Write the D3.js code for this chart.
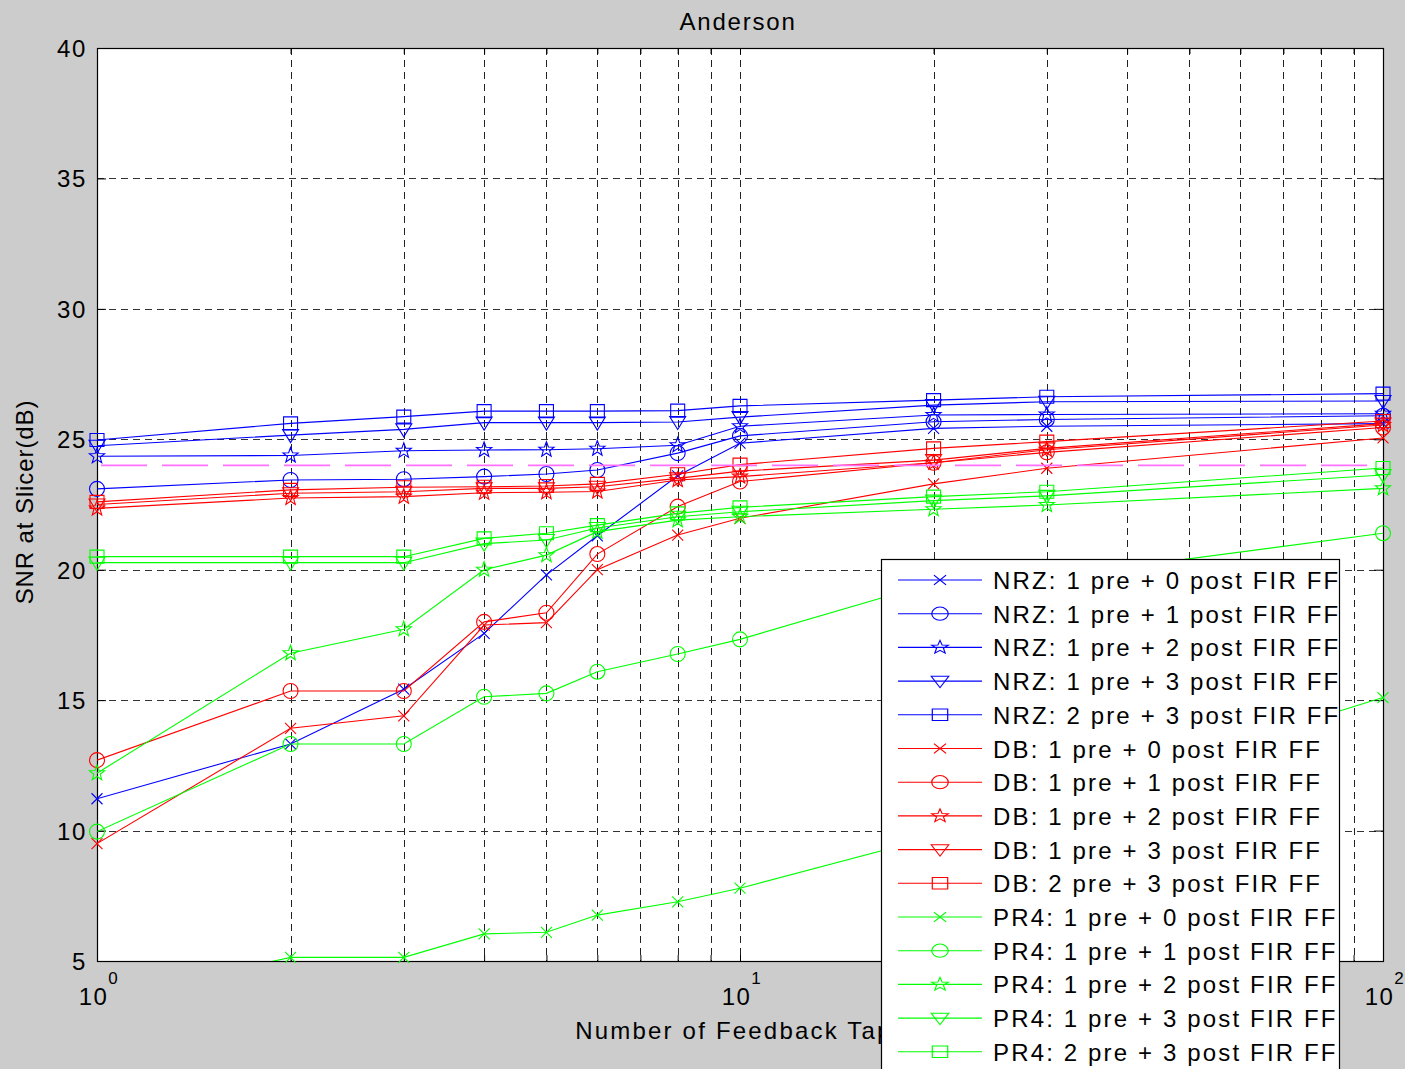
<!DOCTYPE html>
<html>
<head>
<meta charset="utf-8">
<script src="https://cdn.jsdelivr.net/npm/d3@7"></script>
<style>
  body { margin: 0; background: #cccccc; }
  text { font-family: "Liberation Sans", Arial, sans-serif; fill: #000; }
</style>
</head>
<body>
<div id="chart"></div>
<script>
// Data (SNR in dB vs number of feedback taps)
var taps = [1, 2, 3, 4, 5, 6, 8, 10, 20, 30, 100];

var nrz10 = [11.22, 13.32, 15.42, 17.56, 19.8, 21.3, 23.6, 24.85, 25.42, 25.5, 25.6];
var nrz11 = [23.1, 23.44, 23.47, 23.57, 23.67, 23.82, 24.47, 25.13, 25.67, 25.76, 25.9];
var nrz12 = [24.35, 24.38, 24.56, 24.59, 24.6, 24.64, 24.77, 25.5, 25.93, 25.95, 25.98];
var nrz13 = [24.75, 25.16, 25.38, 25.64, 25.64, 25.64, 25.66, 25.85, 26.31, 26.44, 26.47];
var nrz23 = [24.97, 25.61, 25.87, 26.08, 26.08, 26.08, 26.1, 26.28, 26.5, 26.63, 26.75];

var db10 = [9.5, 13.92, 14.4, 17.88, 17.97, 20.0, 21.33, 21.97, 23.29, 23.89, 25.05];
var db11 = [12.7, 15.35, 15.35, 18.0, 18.35, 20.6, 22.42, 23.38, 24.1, 24.5, 25.45];
var db12 = [22.35, 22.75, 22.8, 22.95, 22.97, 23.0, 23.44, 23.57, 24.1, 24.6, 25.55];
var db13 = [22.5, 22.93, 22.99, 23.12, 23.12, 23.18, 23.5, 23.78, 24.2, 24.65, 25.6];
var db23 = [22.6, 23.06, 23.16, 23.18, 23.21, 23.29, 23.66, 24.03, 24.65, 24.91, 25.7];

var pr410 = [3.5, 5.14, 5.14, 6.04, 6.1, 6.76, 7.27, 7.79, 9.75, 11.1, 15.1];
var pr411 = [9.96, 13.32, 13.32, 15.13, 15.26, 16.09, 16.77, 17.33, 19.5, 19.7, 21.4];
var pr412 = [12.2, 16.8, 17.72, 20.0, 20.56, 21.46, 21.9, 22.03, 22.32, 22.48, 23.12];
var pr413 = [20.27, 20.27, 20.27, 21.0, 21.14, 21.6, 22.03, 22.22, 22.65, 22.83, 23.63];
var pr423 = [20.5, 20.5, 20.5, 21.2, 21.4, 21.71, 22.16, 22.39, 22.8, 22.99, 23.9];

var targetSnr = 24;

var yTicks = [5, 10, 15, 20, 25, 30, 35, 40];
var xTicks = [1, 10, 100];
var xTickExp = ['0', '1', '2'];

var seriesNames = [
  'NRZ: 1 pre + 0 post FIR FF', 'NRZ: 1 pre + 1 post FIR FF', 'NRZ: 1 pre + 2 post FIR FF',
  'NRZ: 1 pre + 3 post FIR FF', 'NRZ: 2 pre + 3 post FIR FF',
  'DB: 1 pre + 0 post FIR FF', 'DB: 1 pre + 1 post FIR FF', 'DB: 1 pre + 2 post FIR FF',
  'DB: 1 pre + 3 post FIR FF', 'DB: 2 pre + 3 post FIR FF',
  'PR4: 1 pre + 0 post FIR FF', 'PR4: 1 pre + 1 post FIR FF', 'PR4: 1 pre + 2 post FIR FF',
  'PR4: 1 pre + 3 post FIR FF', 'PR4: 2 pre + 3 post FIR FF'
];
var seriesValues = [nrz10, nrz11, nrz12, nrz13, nrz23, db10, db11, db12, db13, db23,
                    pr410, pr411, pr412, pr413, pr423];
var seriesColors = ['#0000ff', '#0000ff', '#0000ff', '#0000ff', '#0000ff',
                    '#ff0000', '#ff0000', '#ff0000', '#ff0000', '#ff0000',
                    '#00ff00', '#00ff00', '#00ff00', '#00ff00', '#00ff00'];
var seriesMarkers = ['x', 'o', 'p', 'v', 's', 'x', 'o', 'p', 'v', 's', 'x', 'o', 'p', 'v', 's'];

var svgWidth = 1405;
var svgHeight = 1069;

var plot = { left: 97, right: 1383, top: 48, bottom: 961 };

var svg = d3.select('#chart')
  .append('svg')
  .attr('width', svgWidth)
  .attr('height', svgHeight);

svg.append('rect')
  .attr('width', svgWidth)
  .attr('height', svgHeight)
  .attr('fill', '#cccccc');

// Step 1: scales
// ==============================
var xScale = d3.scaleLog().domain([1, 100]).range([plot.left, plot.right]);
var yScale = d3.scaleLinear().domain([5, 40]).range([plot.bottom, plot.top]);

svg.append('defs').append('clipPath')
  .attr('id', 'plotclip')
  .append('rect')
  .attr('x', plot.left)
  .attr('y', plot.top)
  .attr('width', plot.right - plot.left)
  .attr('height', plot.bottom - plot.top);

svg.append('rect')
  .attr('x', plot.left)
  .attr('y', plot.top)
  .attr('width', plot.right - plot.left)
  .attr('height', plot.bottom - plot.top)
  .attr('fill', '#ffffff');

// Step 2: grid lines (dashed, MATLAB style)
// ==============================
var minorX = [];
[1, 10].forEach(function(dec) {
  for (var k = 1; k <= 9; k++) minorX.push(dec * k);
});
minorX.push(100);

svg.append('g')
  .selectAll('line')
  .data(minorX.filter(function(d) { return d > 1 && d < 100; }))
  .enter()
  .append('line')
  .attr('x1', function(d) { return Math.round(xScale(d)) + 0.5; })
  .attr('x2', function(d) { return Math.round(xScale(d)) + 0.5; })
  .attr('y1', plot.top)
  .attr('y2', plot.bottom)
  .attr('stroke', '#222')
  .attr('stroke-dasharray', '7,5');

svg.append('g')
  .selectAll('line')
  .data(yTicks.filter(function(d) { return d > 5 && d < 40; }))
  .enter()
  .append('line')
  .attr('x1', plot.left)
  .attr('x2', plot.right)
  .attr('y1', function(d) { return Math.round(yScale(d)) + 0.5; })
  .attr('y2', function(d) { return Math.round(yScale(d)) + 0.5; })
  .attr('stroke', '#333')
  .attr('stroke-dasharray', '7,5');

// Step 3: axes, ticks inward on all four sides
// ==============================
var axisG = svg.append('g');

axisG.append('g')
  .attr('transform', 'translate(0,' + plot.bottom + ')')
  .call(d3.axisBottom(xScale).tickValues(minorX).tickSize(-6).tickFormat(''));
axisG.append('g')
  .attr('transform', 'translate(0,' + plot.top + ')')
  .call(d3.axisTop(xScale).tickValues(minorX).tickSize(-6).tickFormat(''));
axisG.append('g')
  .attr('transform', 'translate(' + plot.left + ',0)')
  .call(d3.axisLeft(yScale).tickValues(yTicks).tickSize(-9).tickFormat(''));
axisG.append('g')
  .attr('transform', 'translate(' + plot.right + ',0)')
  .call(d3.axisRight(yScale).tickValues(yTicks).tickSize(-9).tickFormat(''));
axisG.selectAll('.domain').remove();
axisG.selectAll('line').attr('stroke', '#000');

svg.append('rect')
  .attr('x', plot.left + 0.5)
  .attr('y', plot.top + 0.5)
  .attr('width', plot.right - plot.left)
  .attr('height', plot.bottom - plot.top)
  .attr('fill', 'none')
  .attr('stroke', '#000')
  .attr('stroke-width', 1.2);

// tick labels
svg.append('g')
  .selectAll('text')
  .data(yTicks)
  .enter()
  .append('text')
  .attr('x', 87)
  .attr('y', function(d) { return yScale(d) + 9; })
  .attr('text-anchor', 'end')
  .attr('font-size', 24)
  .style('letter-spacing', '1.7px')
  .text(function(d) { return d; });

var xl = svg.append('g')
  .selectAll('text')
  .data(xTicks)
  .enter()
  .append('text')
  .attr('x', function(d) { return xScale(d) + 2; })
  .attr('y', 1005)
  .attr('text-anchor', 'middle')
  .attr('font-size', 24)
  .style('letter-spacing', '1.5px');
xl.append('tspan').text('10');
xl.append('tspan')
  .attr('dy', -21)
  .attr('font-size', 17)
  .text(function(d, i) { return xTickExp[i]; });

// titles
svg.append('text')
  .attr('x', 738)
  .attr('y', 30)
  .attr('text-anchor', 'middle')
  .attr('font-size', 24)
  .style('letter-spacing', '1.8px')
  .text('Anderson');

svg.append('text')
  .attr('transform', 'translate(33,502) rotate(-90)')
  .attr('text-anchor', 'middle')
  .attr('font-size', 24)
  .style('letter-spacing', '0.9px')
  .text('SNR at Slicer(dB)');

svg.append('text')
  .attr('x', 741)
  .attr('y', 1039)
  .attr('text-anchor', 'middle')
  .attr('font-size', 24)
  .style('letter-spacing', '2.2px')
  .text('Number of Feedback Taps');

// Step 4: marker shapes
// ==============================
function starPath(ro, ri) {
  var pts = [];
  for (var k = 0; k < 10; k++) {
    var r = k % 2 === 0 ? ro : ri;
    var a = -Math.PI / 2 + k * Math.PI / 5;
    pts.push([r * Math.cos(a), r * Math.sin(a)]);
  }
  return 'M' + pts.map(function(p) { return p[0].toFixed(2) + ',' + p[1].toFixed(2); }).join('L') + 'Z';
}

function markerPath(type) {
  if (type === 'x') return 'M-5.5,-5.5L5.5,5.5M-5.5,5.5L5.5,-5.5';
  if (type === 'o') return 'M7.5,0A7.5,7.5 0 1,1 -7.5,0A7.5,7.5 0 1,1 7.5,0Z';
  if (type === 'p') return starPath(8, 3.3);
  if (type === 'v') return 'M-8,-5.5L8,-5.5L0,7.5Z';
  return 'M-7,-6.5H7V6.5H-7Z';
}

// Step 5: series lines and markers
// ==============================
var line = d3.line()
  .x(function(d) { return xScale(d.x); })
  .y(function(d) { return yScale(d.y); });

var series = seriesValues.map(function(vals, i) {
  return {
    name: seriesNames[i],
    color: seriesColors[i],
    marker: seriesMarkers[i],
    points: vals.map(function(v, j) { return { x: taps[j], y: v }; })
  };
});

var seriesG = svg.append('g');

series.forEach(function(s) {
  seriesG.append('path')
    .datum(s.points)
    .attr('clip-path', 'url(#plotclip)')
    .attr('d', line)
    .attr('fill', 'none')
    .attr('stroke', s.color)
    .attr('stroke-width', 1.1);

  seriesG.selectAll(null)
    .data(s.points.filter(function(d) { return d.y >= 5; }))
    .enter()
    .append('path')
    .attr('transform', function(d) { return 'translate(' + xScale(d.x) + ',' + yScale(d.y) + ')'; })
    .attr('d', markerPath(s.marker))
    .attr('fill', 'none')
    .attr('stroke', s.color)
    .attr('stroke-width', 1.1);
});

// target SNR line
svg.append('line')
  .attr('x1', xScale(1) + 4)
  .attr('x2', xScale(100))
  .attr('y1', yScale(targetSnr))
  .attr('y2', yScale(targetSnr))
  .attr('stroke', '#ff70ff')
  .attr('stroke-width', 1.6)
  .attr('stroke-dasharray', '46,15');

// Step 6: legend
// ==============================
var legendX = 881, legendY = 559, rowH = 33.7;

var legend = svg.append('g');
legend.append('rect')
  .attr('x', legendX + 0.5)
  .attr('y', legendY + 0.5)
  .attr('width', 458)
  .attr('height', 540)
  .attr('fill', '#ffffff')
  .attr('stroke', '#000')
  .attr('stroke-width', 1.2);

var rows = legend.selectAll('.row')
  .data(series)
  .enter()
  .append('g')
  .attr('class', 'row')
  .attr('transform', function(d, i) { return 'translate(0,' + (legendY + 21 + i * rowH) + ')'; });

rows.append('line')
  .attr('x1', 898)
  .attr('x2', 982)
  .attr('stroke', function(d) { return d.color; })
  .attr('stroke-width', 1.1);

rows.append('path')
  .attr('transform', 'translate(940,0) scale(1.1,0.88)')
  .attr('d', function(d) { return markerPath(d.marker); })
  .attr('fill', 'none')
  .attr('stroke', function(d) { return d.color; })
  .attr('stroke-width', 1.1);

rows.append('text')
  .attr('x', 993)
  .attr('y', 9)
  .attr('font-size', 24)
  .style('letter-spacing', '2.15px')
  .text(function(d) { return d.name; });
</script>
</body>
</html>
